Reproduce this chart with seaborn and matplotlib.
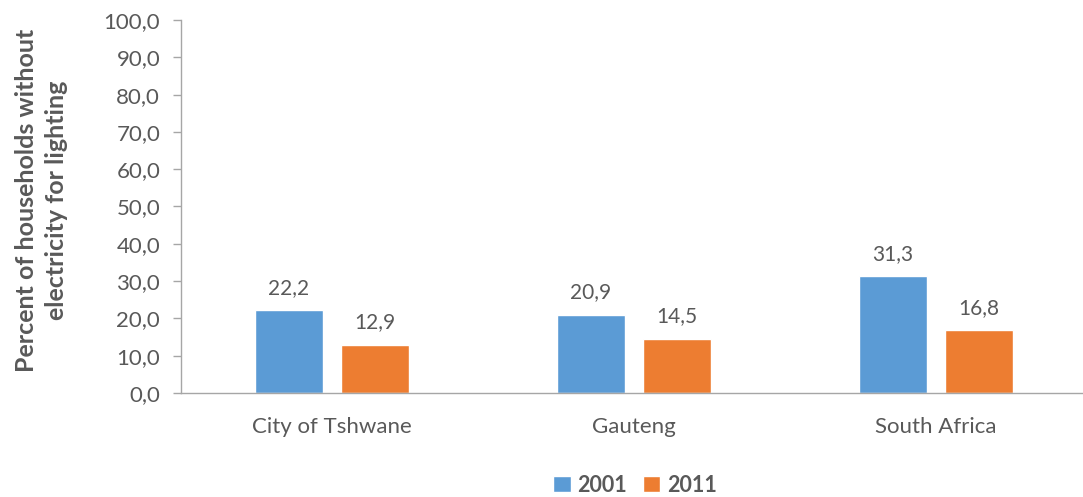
import matplotlib
matplotlib.use("Agg")
import matplotlib.pyplot as plt
import seaborn as sns
import pandas as pd
from matplotlib.patches import Patch

regions = ["City of Tshwane", "Gauteng", "South Africa"]
years = ["2001", "2011"]
values_2001 = [22.2, 20.9, 31.3]
values_2011 = [12.9, 14.5, 16.8]
y_ticks = [0, 10, 20, 30, 40, 50, 60, 70, 80, 90, 100]

colors = {"2001": "#5B9BD5", "2011": "#ED7D31"}
text_color = "#595959"
axis_color = "#A6A6A6"

df = pd.DataFrame({
    "region": regions * 2,
    "year": [years[0]] * 3 + [years[1]] * 3,
    "value": values_2001 + values_2011,
})

sns.set_theme(style="white")
plt.rcParams["font.family"] = ["Lato", "DejaVu Sans"]

fig = plt.figure(figsize=(10.83, 4.97), dpi=100)
ax = fig.add_axes([181 / 1083, 104 / 497, 906 / 1083, 373 / 497])

sns.barplot(data=df, x="region", y="value", hue="year", palette=colors,
            width=0.57, gap=0.21, ax=ax, legend=False, saturation=1)

for container in ax.containers:
    labels = [f"{v:.1f}".replace(".", ",") for v in container.datavalues]
    ax.bar_label(container, labels=labels, padding=9, fontsize=15,
                 color=text_color)

ax.set_xlim(-0.5, 2.5)
ax.set_ylim(0, 100)
ax.set_yticks(y_ticks)
ax.set_yticklabels([f"{t:.1f}".replace(".", ",") for t in y_ticks],
                   fontsize=16, color=text_color)
ax.set_xticks([0, 1, 2])
ax.set_xticklabels(regions, fontsize=16, color=text_color)
ax.tick_params(axis="x", length=0, pad=17)
ax.set_xticks([-0.5, 0.5, 1.5, 2.5], minor=True)
ax.tick_params(axis="x", which="minor", length=6, color=axis_color, width=1)
ax.tick_params(axis="y", length=6, color=axis_color, width=1, left=True,
               direction="out", pad=9)

for side in ["top", "right"]:
    ax.spines[side].set_visible(False)
for side in ["left", "bottom"]:
    ax.spines[side].set_color(axis_color)
    ax.spines[side].set_linewidth(1)

ax.set_xlabel("")
ax.set_ylabel("Percent of households without\nelectricity for lighting",
              fontsize=18, fontweight="bold", color=text_color,
              linespacing=1.35)
ax.yaxis.set_label_coords(-0.125, 0.517)

handles = [Patch(facecolor=colors[y], label=y) for y in years]
leg = fig.legend(handles=handles, loc="center",
                 bbox_to_anchor=(635 / 1083, 1 - 485 / 497),
                 ncol=2, frameon=False, handlelength=0.8, handleheight=0.8,
                 columnspacing=0.75, handletextpad=0.3,
                 prop={"size": 15.5, "weight": "bold"})
for t in leg.get_texts():
    t.set_color(text_color)

fig.savefig("out.png", dpi=100)
